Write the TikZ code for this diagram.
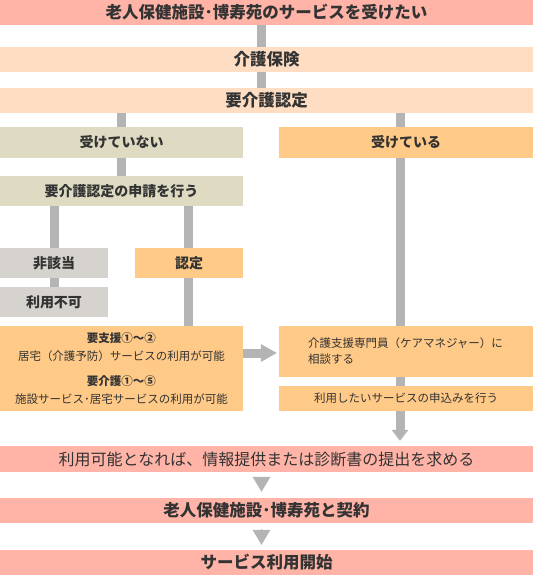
\documentclass[tikz,border=0pt]{standalone}
\usepackage{fontspec}
\setmainfont{Noto Sans CJK JP}
\usetikzlibrary{arrows.meta, calc}

\definecolor{salmon}{HTML}{FFB4A7}
\definecolor{peach}{HTML}{FFDDC3}
\definecolor{khaki}{HTML}{DEDBC2}
\definecolor{stone}{HTML}{D6D2CD}
\definecolor{amber}{HTML}{FFC987}
\definecolor{bargray}{HTML}{B4B4B4}
\definecolor{ink}{HTML}{333333}

\tikzset{
  box/.style={rectangle, inner sep=0pt, text=ink, font=\bfseries\fontsize{14}{16}\selectfont},
  wide/.style={box, minimum width=533pt, minimum height=25pt},
  half/.style={box, minimum width=243pt, minimum height=30pt},
  small/.style={box, minimum width=108pt, minimum height=30pt},
  right/.style={box, minimum width=254pt},
  big/.style={font=\bfseries\fontsize{16.5}{18}\selectfont},
  note/.style={font=\fontsize{11.5}{18}\selectfont},
  bar/.style={draw=bargray, line width=9pt},
  tri/.style={draw=bargray, line width=0.1pt, -{Triangle[width=18pt,length=15pt,line width=0pt]}}
}

\begin{document}
\begin{tikzpicture}[x=1pt, y=-1pt]
\useasboundingbox (0,0) rectangle (533,576);
% bar positions
\coordinate (cx) at (261.5,0);
\coordinate (lx) at (121.5,0);
\coordinate (rx) at (400,0);
\coordinate (ax) at (54,0);
\coordinate (bx) at (188.5,0);
\coordinate (ay) at (0,353);

% boxes
\node[wide, fill=salmon, big] (want) at (266.5,12.5) {老人保健施設･博寿苑のサービスを受けたい};
\node[wide, fill=peach, big] (hoken) at (266.5,59.5) {介護保険};
\node[wide, fill=peach, big] (nintei) at (266.5,100.5) {要介護認定};
\node[half, fill=khaki, minimum height=31pt] (nashi) at (121.5,142.5) {受けていない};
\node[right, fill=amber, minimum height=31pt] (ari) at (406,142.5) {受けている};
\node[half, fill=khaki] (shinsei) at (121.5,191) {要介護認定の申請を行う};
\node[small, fill=stone] (higaito) at (54,263) {非該当};
\node[small, fill=stone] (fuka) at (54,302) {利用不可};
\node[small, fill=amber] (ninteib) at (189,263) {認定};
\node[half, fill=amber, minimum height=85pt, note, align=center] (kano) at (121.5,368.5)
  {\textbf{要支援①～②}\\居宅（介護予防）サービスの利用が可能\\[7pt]
   \textbf{要介護①～⑤}\\施設サービス･居宅サービスの利用が可能};
\node[right, fill=amber, minimum height=51pt, note, font=\fontsize{11.5}{16}\selectfont,
  text width=196pt, inner xsep=29pt, align=left] (soudan) at (406,351.5)
  {介護支援専門員（ケアマネジャー）に\\相談する};
\node[right, fill=amber, minimum height=25pt, font=\fontsize{11.5}{14}\selectfont] (moushikomi) at (406,398.5)
  {利用したいサービスの申込みを行う};
\node[wide, fill=salmon, minimum height=26pt, font=\fontsize{16}{18}\selectfont] (teishutsu) at (266.5,459)
  {利用可能となれば、情報提供または診断書の提出を求める};
\node[wide, fill=salmon, big] (keiyaku) at (266.5,510.5) {老人保健施設･博寿苑と契約};
\node[wide, fill=salmon, big] (kaishi) at (266.5,562.5) {サービス利用開始};

% connectors
\draw[bar] (want.south -| cx) -- (hoken.north -| cx);
\draw[bar] (hoken.south -| cx) -- (nintei.north -| cx);
\draw[bar] (nintei.south -| lx) -- (nashi.north -| lx);
\draw[bar] (nintei.south -| rx) -- (ari.north -| rx);
\draw[bar] (nashi.south -| lx) -- (shinsei.north -| lx);
\draw[bar] (shinsei.south -| ax) -- (higaito.north -| ax);
\draw[bar] (shinsei.south -| bx) -- (ninteib.north -| bx);
\draw[bar] (higaito.south -| ax) -- (fuka.north -| ax);
\draw[bar] (ninteib.south -| bx) -- (kano.north -| bx);
\draw[bar] (ari.south -| rx) -- (soudan.north -| rx);
\draw[bar] (soudan.south -| rx) -- (moushikomi.north -| rx);
\draw[bar, -{Triangle[width=18pt,length=16pt,line width=0pt]}, shorten >=2pt]
  (kano.east |- ay) -- (soudan.west |- ay);
\draw[bar, -{Triangle[width=17pt,length=11pt,line width=0pt]}, shorten >=5pt]
  (moushikomi.south -| rx) -- (teishutsu.north -| rx);
\draw[tri] ($(teishutsu.south -| cx)+(0,5)$) -- ($(keiyaku.north -| cx)+(0,-6)$);
\draw[tri] ($(keiyaku.south -| cx)+(0,6)$) -- ($(kaishi.north -| cx)+(0,-5)$);
\end{tikzpicture}
\end{document}
